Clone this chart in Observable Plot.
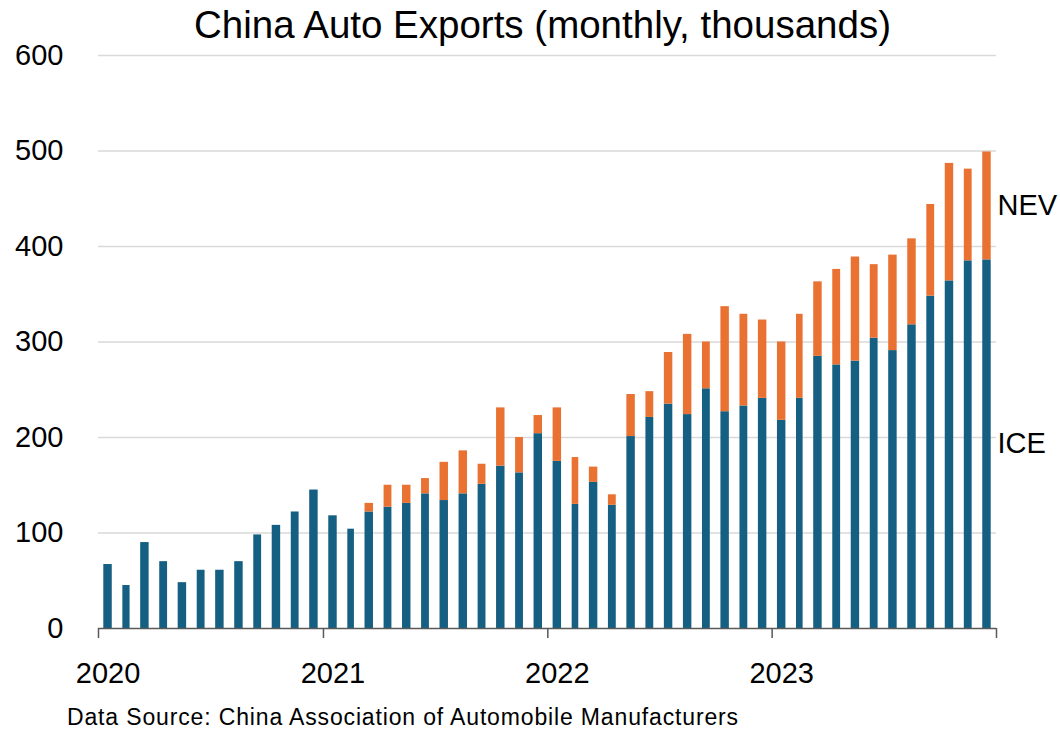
<!DOCTYPE html>
<html>
<head>
<meta charset="utf-8">
<script src="https://cdn.jsdelivr.net/npm/d3@7"></script>
<script src="https://cdn.jsdelivr.net/npm/@observablehq/plot@0.6"></script>
<style>
  html, body { margin: 0; padding: 0; background: #fff; }
  #wrap { position: relative; width: 1060px; height: 732px; font-family: "Liberation Sans", Arial, sans-serif; color: #000; }
  #title { position: absolute; left: 0; top: 3px; width: 1085px; text-align: center; font-size: 38.5px; line-height: 44px; }
  #chart { position: absolute; left: 0; top: 40px; }
  #caption { position: absolute; left: 67px; top: 703px; font-size: 23px; line-height: 28px; letter-spacing: 0.85px; }
  svg { overflow: visible; }
</style>
</head>
<body>
<div id="wrap">
  <div id="title">China Auto Exports (monthly, thousands)</div>
  <div id="chart"></div>
  <div id="caption">Data Source: China Association of Automobile Manufacturers</div>
</div>
<script>
// ---- Data (thousands of vehicles, monthly, Jan 2020 – Dec 2023) ----
const startYear = 2020;
const endYear = 2023;
const seriesNames = ["ICE", "NEV"];
const seriesColors = ["#156082", "#E97132"];
const yTicks = [0, 100, 200, 300, 400, 500, 600];

const iceValues = [
  67, 45, 90, 70, 48, 61, 61, 70, 98, 108, 122, 145,       // 2020
  118, 104, 122, 127, 131, 141, 134, 141, 151, 170, 163, 204, // 2021
  175, 130, 153, 129, 201, 221, 235, 224, 251, 227, 233, 241, // 2022
  218, 241, 285, 276, 280, 304, 291, 318, 348, 364, 385, 386  // 2023
];
const nevValues = [
  0, 0, 0, 0, 0, 0, 0, 0, 0, 0, 0, 0,                       // 2020
  0, 0, 9, 23, 19, 16, 40, 45, 21, 61, 37, 19,              // 2021
  56, 49, 16, 11, 44, 27, 54, 84, 49, 110, 96, 82,          // 2022
  82, 88, 78, 100, 109, 77, 100, 90, 96, 123, 96, 113       // 2023
];

// ---- Build table ----
const months = d3.utcMonth.range(new Date(Date.UTC(startYear, 0, 1)), new Date(Date.UTC(endYear + 1, 0, 1)));
const rows = [];
months.forEach((m, i) => {
  rows.push({date: m, type: "ICE", value: iceValues[i]});
  rows.push({date: m, type: "NEV", value: nevValues[i]});
});

const yearStarts = d3.utcYear.range(new Date(Date.UTC(startYear, 0, 1)), new Date(Date.UTC(endYear + 2, 0, 1)));
const labelDates = d3.utcYear.range(new Date(Date.UTC(startYear, 0, 1)), new Date(Date.UTC(endYear + 1, 0, 1)))
  .map(d => new Date(d.getTime() + 15.5 * 864e5)); // centre of January band

const last = months.length - 1;
const endLabels = [
  {name: "NEV", date: months[last], value: iceValues[last] + nevValues[last] / 2},
  {name: "ICE", date: months[last], value: iceValues[last] / 2}
];

const font = '"Liberation Sans", Arial, sans-serif';

const chart = Plot.plot({
  width: 1060,
  height: 660,
  marginTop: 15,
  marginBottom: 72,
  marginLeft: 98,
  marginRight: 64,
  style: {fontFamily: font, fontSize: "29px", color: "#000", background: "transparent", overflow: "visible"},
  x: {type: "utc", domain: [new Date(Date.UTC(startYear, 0, 1)), new Date(Date.UTC(endYear + 1, 0, 1))]},
  y: {domain: [0, 600]},
  color: {domain: seriesNames, range: seriesColors},
  marks: [
    Plot.gridY(yTicks.filter(d => d > 0), {stroke: "#d9d9d9", strokeOpacity: 1, strokeWidth: 1.5}),
    Plot.axisY(yTicks, {tickSize: 0, tickPadding: 35, fontSize: 29, label: null, tickFormat: d => String(d)}),
    Plot.rectY(rows, {x: "date", interval: "month", y: "value", fill: "type", insetLeft: 5.3, insetRight: 5.3}),
    Plot.ruleY([0], {stroke: "#595959", strokeWidth: 1.5}),
    Plot.axisX(yearStarts, {tickSize: 10, stroke: "#595959", strokeWidth: 1.5, label: null, tickFormat: () => ""}),
    Plot.axisX(labelDates, {tickSize: 0, tickPadding: 34, fontSize: 29, label: null, tickFormat: d => String(d.getUTCFullYear())}),
    Plot.text(endLabels, {x: "date", y: "value", text: "name", textAnchor: "start", dx: 20, fontSize: 29, fill: "#000"})
  ]
});
document.getElementById("chart").appendChild(chart);
</script>
</body>
</html>
